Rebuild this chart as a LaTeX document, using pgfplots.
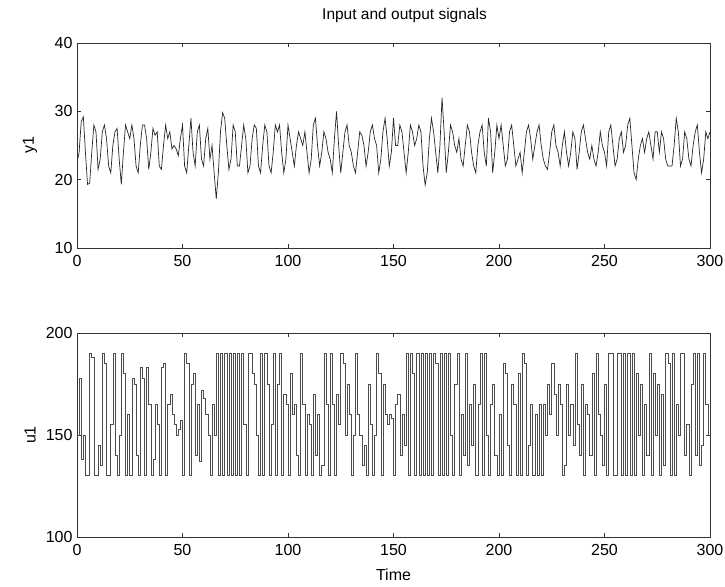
\documentclass[border=0pt]{standalone}
\usepackage{fontspec}
\setmainfont{Liberation Sans}
\usepackage{pgfplots}
\usepackage{pgfplotstable}
\pgfplotsset{compat=1.18}

% output signal y1, one sample per time step
\pgfplotstableread[row sep=\\]{
t y \\
0 22.5 \\ 1 24 \\ 2 28.5 \\ 3 29.2 \\ 4 24 \\ 5 19.3 \\ 6 19.5 \\ 7 24 \\ 8 28 \\ 9 27 \\
10 21.5 \\ 11 23 \\ 12 27 \\ 13 28 \\ 14 26 \\ 15 22 \\ 16 21 \\ 17 25 \\ 18 27 \\ 19 27.5 \\
20 23 \\ 21 19.3 \\ 22 24 \\ 23 28 \\ 24 27 \\ 25 26 \\ 26 28 \\ 27 26 \\ 28 22 \\ 29 21 \\
30 25 \\ 31 28 \\ 32 28 \\ 33 26 \\ 34 21.5 \\ 35 24 \\ 36 27.5 \\ 37 26.5 \\ 38 27 \\ 39 22 \\
40 21.5 \\ 41 25 \\ 42 28 \\ 43 26 \\ 44 27 \\ 45 24.5 \\ 46 25 \\ 47 24.5 \\ 48 23.5 \\ 49 26 \\
50 28 \\ 51 22 \\ 52 21 \\ 53 25 \\ 54 29 \\ 55 24 \\ 56 22 \\ 57 27 \\ 58 28 \\ 59 23 \\
60 22 \\ 61 26 \\ 62 27.5 \\ 63 23 \\ 64 25 \\ 65 21 \\ 66 17.2 \\ 67 21 \\ 68 27 \\ 69 29.8 \\
70 29 \\ 71 25 \\ 72 21.5 \\ 73 23 \\ 74 28 \\ 75 27 \\ 76 22 \\ 77 22 \\ 78 25 \\ 79 28 \\
80 26 \\ 81 21 \\ 82 22 \\ 83 26 \\ 84 28 \\ 85 27.5 \\ 86 22 \\ 87 21 \\ 88 25 \\ 89 28 \\
90 27 \\ 91 22 \\ 92 21 \\ 93 24 \\ 94 28 \\ 95 27 \\ 96 28 \\ 97 24 \\ 98 21 \\ 99 23 \\
100 28 \\ 101 26 \\ 102 24 \\ 103 22 \\ 104 25 \\ 105 27 \\ 106 26 \\ 107 25 \\ 108 27 \\ 109 24 \\
110 21 \\ 111 23 \\ 112 28 \\ 113 29 \\ 114 25 \\ 115 22 \\ 116 24 \\ 117 27 \\ 118 26 \\ 119 24 \\
120 23 \\ 121 21 \\ 122 26 \\ 123 30 \\ 124 25 \\ 125 21 \\ 126 24 \\ 127 27 \\ 128 28 \\ 129 25 \\
130 24 \\ 131 22 \\ 132 21 \\ 133 24 \\ 134 27 \\ 135 26.5 \\ 136 25 \\ 137 22 \\ 138 24 \\ 139 27 \\
140 28 \\ 141 26 \\ 142 25 \\ 143 21 \\ 144 23 \\ 145 27 \\ 146 29 \\ 147 26 \\ 148 22 \\ 149 24 \\
150 29 \\ 151 25 \\ 152 25 \\ 153 28 \\ 154 27 \\ 155 24 \\ 156 21 \\ 157 24 \\ 158 28 \\ 159 27 \\
160 25 \\ 161 26 \\ 162 28 \\ 163 27 \\ 164 22 \\ 165 19.2 \\ 166 21 \\ 167 26 \\ 168 29 \\ 169 27 \\
170 24 \\ 171 21 \\ 172 25 \\ 173 32 \\ 174 27 \\ 175 21 \\ 176 24 \\ 177 28 \\ 178 27 \\ 179 25 \\
180 24 \\ 181 26 \\ 182 23 \\ 183 22 \\ 184 25 \\ 185 28 \\ 186 27 \\ 187 24 \\ 188 22 \\ 189 21 \\
190 25 \\ 191 27 \\ 192 28 \\ 193 24 \\ 194 22 \\ 195 29 \\ 196 27 \\ 197 21 \\ 198 24 \\ 199 28 \\
200 26 \\ 201 28 \\ 202 25 \\ 203 22 \\ 204 23 \\ 205 27 \\ 206 28 \\ 207 25 \\ 208 22 \\ 209 23 \\
210 24 \\ 211 21 \\ 212 24 \\ 213 27 \\ 214 28 \\ 215 26 \\ 216 23 \\ 217 25 \\ 218 27 \\ 219 28 \\
220 25 \\ 221 23 \\ 222 22 \\ 223 21.5 \\ 224 24 \\ 225 27 \\ 226 28 \\ 227 25 \\ 228 24 \\ 229 22 \\
230 25 \\ 231 27 \\ 232 24 \\ 233 22 \\ 234 24 \\ 235 27 \\ 236 26 \\ 237 21.5 \\ 238 24 \\ 239 27 \\
240 28 \\ 241 26 \\ 242 24 \\ 243 23 \\ 244 25 \\ 245 23 \\ 246 22 \\ 247 24 \\ 248 27 \\ 249 25 \\
250 24 \\ 251 22 \\ 252 27 \\ 253 28 \\ 254 25 \\ 255 22 \\ 256 23 \\ 257 26 \\ 258 27 \\ 259 24 \\
260 25 \\ 261 28 \\ 262 29 \\ 263 25 \\ 264 21 \\ 265 20 \\ 266 23 \\ 267 25 \\ 268 26 \\ 269 24 \\
270 26 \\ 271 27 \\ 272 25 \\ 273 23 \\ 274 27 \\ 275 27 \\ 276 24 \\ 277 27 \\ 278 26 \\ 279 23 \\
280 22 \\ 281 22 \\ 282 22 \\ 283 25 \\ 284 29 \\ 285 27 \\ 286 22 \\ 287 23 \\ 288 27 \\ 289 26 \\
290 23 \\ 291 22 \\ 292 25 \\ 293 27 \\ 294 28 \\ 295 24 \\ 296 21 \\ 297 23 \\ 298 27 \\ 299 26 \\
300 27 \\
}\youtput

% input signal u1 (held between samples)
\pgfplotstableread[row sep=\\]{
t u \\
0 150 \\ 1 178 \\ 2 138 \\ 3 150 \\ 4 130 \\ 5 130 \\ 6 190 \\ 7 188 \\ 8 130 \\ 9 130 \\
10 145 \\ 11 135 \\ 12 190 \\ 13 185 \\ 14 130 \\ 15 130 \\ 16 155 \\ 17 190 \\ 18 140 \\ 19 130 \\
20 150 \\ 21 190 \\ 22 180 \\ 23 130 \\ 24 160 \\ 25 130 \\ 26 178 \\ 27 175 \\ 28 140 \\ 29 130 \\
30 183 \\ 31 178 \\ 32 130 \\ 33 183 \\ 34 165 \\ 35 130 \\ 36 138 \\ 37 165 \\ 38 155 \\ 39 130 \\
40 183 \\ 41 185 \\ 42 130 \\ 43 165 \\ 44 170 \\ 45 160 \\ 46 155 \\ 47 150 \\ 48 153 \\ 49 157 \\
50 130 \\ 51 190 \\ 52 185 \\ 53 130 \\ 54 175 \\ 55 180 \\ 56 140 \\ 57 165 \\ 58 137 \\ 59 172 \\
60 168 \\ 61 160 \\ 62 150 \\ 63 130 \\ 64 165 \\ 65 150 \\ 66 190 \\ 67 130 \\ 68 190 \\ 69 130 \\
70 190 \\ 71 130 \\ 72 190 \\ 73 130 \\ 74 190 \\ 75 130 \\ 76 190 \\ 77 130 \\ 78 190 \\ 79 155 \\
80 130 \\ 81 190 \\ 82 190 \\ 83 180 \\ 84 175 \\ 85 150 \\ 86 130 \\ 87 190 \\ 88 130 \\ 89 190 \\
90 175 \\ 91 130 \\ 92 155 \\ 93 190 \\ 94 130 \\ 95 175 \\ 96 190 \\ 97 130 \\ 98 170 \\ 99 165 \\
100 130 \\ 101 180 \\ 102 160 \\ 103 165 \\ 104 140 \\ 105 130 \\ 106 190 \\ 107 165 \\ 108 130 \\ 109 160 \\
110 155 \\ 111 130 \\ 112 170 \\ 113 140 \\ 114 160 \\ 115 130 \\ 116 135 \\ 117 190 \\ 118 165 \\ 119 130 \\
120 190 \\ 121 165 \\ 122 130 \\ 123 170 \\ 124 155 \\ 125 190 \\ 126 185 \\ 127 150 \\ 128 175 \\ 129 160 \\
130 130 \\ 131 150 \\ 132 190 \\ 133 160 \\ 134 150 \\ 135 135 \\ 136 145 \\ 137 130 \\ 138 175 \\ 139 155 \\
140 130 \\ 141 150 \\ 142 190 \\ 143 180 \\ 144 130 \\ 145 175 \\ 146 160 \\ 147 155 \\ 148 160 \\ 149 158 \\
150 130 \\ 151 165 \\ 152 170 \\ 153 140 \\ 154 160 \\ 155 145 \\ 156 190 \\ 157 130 \\ 158 190 \\ 159 180 \\
160 130 \\ 161 190 \\ 162 130 \\ 163 190 \\ 164 130 \\ 165 190 \\ 166 130 \\ 167 190 \\ 168 130 \\ 169 190 \\
170 185 \\ 171 130 \\ 172 190 \\ 173 130 \\ 174 190 \\ 175 130 \\ 176 190 \\ 177 150 \\ 178 130 \\ 179 175 \\
180 190 \\ 181 130 \\ 182 160 \\ 183 140 \\ 184 190 \\ 185 135 \\ 186 165 \\ 187 145 \\ 188 175 \\ 189 130 \\
190 165 \\ 191 190 \\ 192 130 \\ 193 190 \\ 194 150 \\ 195 130 \\ 196 165 \\ 197 175 \\ 198 140 \\ 199 130 \\
200 160 \\ 201 130 \\ 202 185 \\ 203 180 \\ 204 145 \\ 205 130 \\ 206 175 \\ 207 165 \\ 208 130 \\ 209 180 \\
210 130 \\ 211 190 \\ 212 185 \\ 213 130 \\ 214 145 \\ 215 165 \\ 216 130 \\ 217 160 \\ 218 130 \\ 219 165 \\
220 130 \\ 221 165 \\ 222 150 \\ 223 175 \\ 224 160 \\ 225 185 \\ 226 170 \\ 227 150 \\ 228 175 \\ 229 165 \\
230 130 \\ 231 135 \\ 232 175 \\ 233 150 \\ 234 165 \\ 235 145 \\ 236 190 \\ 237 155 \\ 238 140 \\ 239 175 \\
240 130 \\ 241 165 \\ 242 160 \\ 243 140 \\ 244 180 \\ 245 130 \\ 246 190 \\ 247 160 \\ 248 150 \\ 249 135 \\
250 175 \\ 251 130 \\ 252 190 \\ 253 190 \\ 254 130 \\ 255 130 \\ 256 190 \\ 257 190 \\ 258 130 \\ 259 190 \\
260 130 \\ 261 190 \\ 262 130 \\ 263 190 \\ 264 130 \\ 265 180 \\ 266 150 \\ 267 175 \\ 268 130 \\ 269 165 \\
270 140 \\ 271 190 \\ 272 130 \\ 273 180 \\ 274 150 \\ 275 175 \\ 276 130 \\ 277 170 \\ 278 135 \\ 279 190 \\
280 185 \\ 281 130 \\ 282 190 \\ 283 130 \\ 284 165 \\ 285 150 \\ 286 190 \\ 287 190 \\ 288 140 \\ 289 155 \\
290 130 \\ 291 175 \\ 292 190 \\ 293 140 \\ 294 190 \\ 295 135 \\ 296 145 \\ 297 190 \\ 298 165 \\ 299 150 \\
300 150 \\
}\uinput

\pgfplotsset{
  matlab/.style={
    scale only axis,
    width=633pt,
    xmin=0, xmax=300,
    xtick={0,50,...,300},
    tick align=inside,
    xtick pos=both, ytick pos=both,
    major tick length=4pt,
    axis line style={black!80, line width=0.6pt},
    tick style={black!80, line width=0.6pt},
    /pgf/number format/assume math mode=true,
    /pgf/number format/1000 sep={},
    tick label style={font=\fontsize{16}{18}\selectfont},
    label style={font=\fontsize{16}{18}\selectfont},
    xticklabel style={yshift=-4pt},
    yticklabel style={xshift=-1pt},
    ylabel style={at={(axis description cs:-0.074,0.5)}, anchor=center},
  }
}

\begin{document}
\begin{tikzpicture}
\path[use as bounding box] (0,0) rectangle (725pt,586pt);

\begin{axis}[
  matlab,
  at={(77pt,338pt)}, anchor=south west,
  height=205pt,
  ymin=10, ymax=40,
  ytick={10,20,30,40},
  ylabel={y1},
  title={Input and output signals},
  title style={font=\fontsize{15.5}{17}\selectfont, at={(axis description cs:0.5,1)}, xshift=11pt, yshift=11pt, anchor=south},
]
\addplot[black!85, line width=0.7pt] table[x=t, y=y] {\youtput};
\end{axis}

\begin{axis}[
  matlab,
  at={(77pt,49pt)}, anchor=south west,
  height=204pt,
  ymin=100, ymax=200,
  ytick={100,150,200},
  ylabel={u1},
  xlabel={Time},
  xlabel style={yshift=-6pt},
]
\addplot[black!70, line width=0.6pt, const plot] table[x=t, y=u] {\uinput};
\end{axis}
\end{tikzpicture}
\end{document}
